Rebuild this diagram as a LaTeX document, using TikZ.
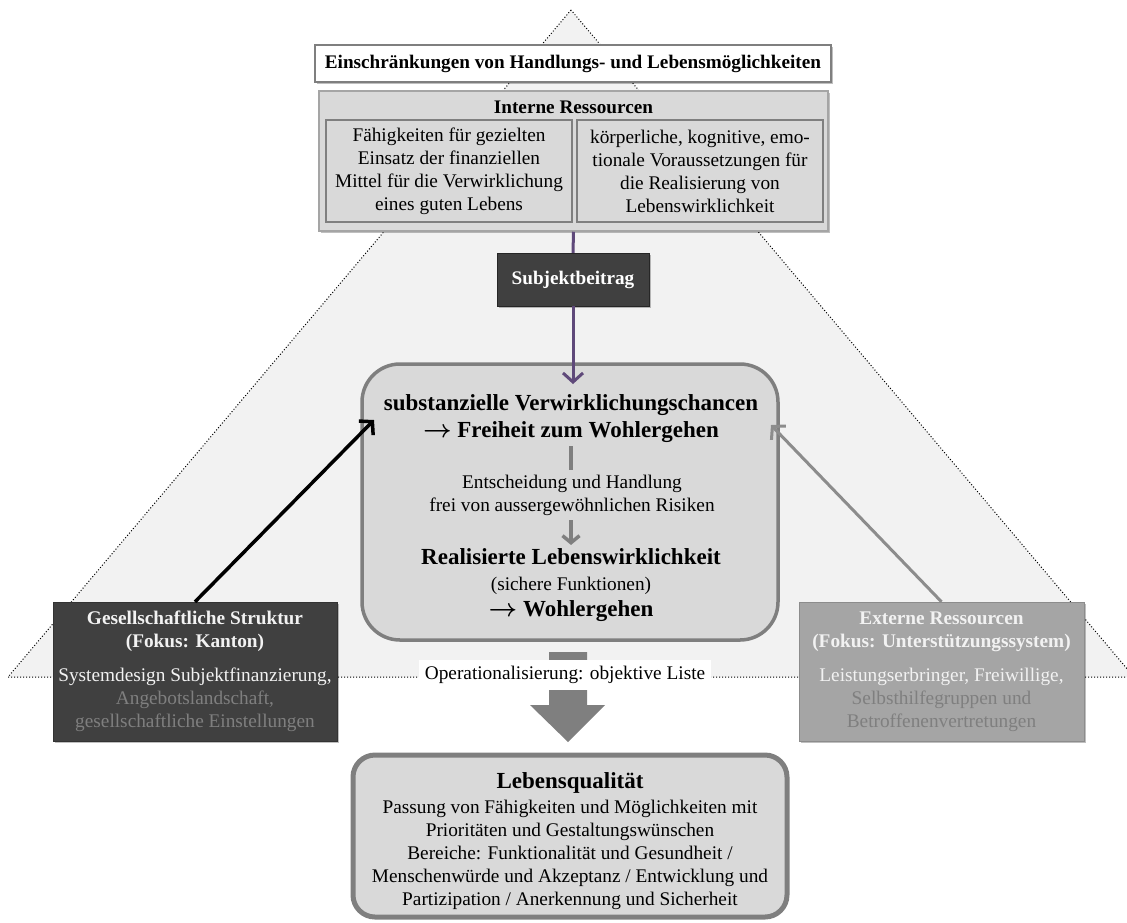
\documentclass[tikz,border=0pt]{standalone}
\usepackage{fontspec}
\setmainfont{Liberation Serif}
\usetikzlibrary{positioning,arrows.meta,shadows}
\definecolor{tri}{HTML}{F2F2F2}
\definecolor{box}{HTML}{D9D9D9}
\definecolor{dk}{HTML}{404040}
\definecolor{md}{HTML}{A5A5A5}
\definecolor{ln}{HTML}{7F7F7F}
\definecolor{lila}{HTML}{5F497A}
\newcommand{\txtsize}{\fontsize{19.3}{23}\selectfont}
\newcommand{\hdsize}{\fontsize{19.2}{23}\selectfont\bfseries}
\newcommand{\bigbold}{\fontsize{23}{27}\selectfont\bfseries}
\newcommand{\toarrow}{{\boldmath$\rightarrow$}}

\begin{document}
\begin{tikzpicture}[x=1pt, y=-1pt, font=\txtsize,
  shadowed/.style={drop shadow={shadow xshift=2pt, shadow yshift=-2pt, opacity=0.25, fill=black}},
  barb/.style={-{Straight Barb[length=9pt, width=20pt]}}]
\useasboundingbox (0,0) rectangle (1127,922);
% dotted triangle behind everything, its base is the long dotted line
\draw[dotted, line width=1pt, fill=tri] (571,10) -- (8,677) -- (1134,677) -- cycle;
% top: limits and internal resources
\node[draw=ln, line width=1.5pt, fill=white, minimum width=516pt, minimum height=37pt, font=\hdsize, shadowed] (limits) at (573,63.5) {Einschränkungen von Handlungs- und Lebensmöglichkeiten};
\node[draw=md, line width=1.5pt, fill=box, minimum width=509pt, minimum height=140pt, shadowed] (ir) at (573.5,161) {};
\node[font=\hdsize] (irTitle) at (573.5,107) {Interne Ressourcen};
\node[draw=ln, line width=1.2pt, fill=box, minimum width=246pt, minimum height=102pt, align=center] (irLeft) at (449,171) {Fähigkeiten für gezielten\\Einsatz der finanziellen\\Mittel für die Verwirklichung\\eines guten Lebens};
\node[draw=ln, line width=1.2pt, fill=box, minimum width=246pt, minimum height=102pt, align=center] (irRight) at (700,171) {körperliche, kognitive, emo-\\tionale Voraussetzungen für\\die Realisierung von\\Lebenswirklichkeit};
\node[draw=black!85, fill=dk, text=white, font=\hdsize, minimum width=152pt, minimum height=53pt, shadowed] (sb) at (573,279.5) {Subjektbeitrag};
% central box
\node[draw=ln, line width=3.5pt, fill=box, rounded corners=38pt, minimum width=416pt, minimum height=276pt] (main) at (570,502) {};
\node[font=\bigbold, align=center] (chance) at (571,418.5) {substanzielle Verwirklichungschancen\\\toarrow\ Freiheit zum Wohlergehen};
\node[align=center] (real) at (571,585) {{\bigbold Realisierte Lebenswirklichkeit}\\[3pt](sichere Funktionen)\\[3pt]{\bigbold \toarrow\ Wohlergehen}};
\draw[ln, line width=3.5pt, -{Straight Barb[length=7pt, width=17pt]}] (chance.south) -- (real.north);
\node[align=center, fill=box, inner sep=5pt] (decision) at (572,495) {Entscheidung und Handlung\\frei von aussergewöhnlichen Risiken};
\coordinate (tipTop) at (573,384);
\draw[lila, line width=3pt] (ir.south) -- (sb.north);
\draw[lila, line width=3pt, barb] (sb.south) -- (tipTop);
% side boxes
\node[draw=black!80, fill=dk, text=tri, minimum width=284pt, minimum height=139pt, align=center, shadowed] (gs) at (195,671.5) {\textbf{Gesellschaftliche Struktur}\\\textbf{(Fokus: Kanton)}\\[11pt]Systemdesign Subjektfinanzierung,\\\textcolor{ln}{Angebotslandschaft,}\\\textcolor{ln}{gesellschaftliche Einstellungen}};
\node[draw=md!85!black, fill=md, text=tri, minimum width=285pt, minimum height=139pt, align=center, shadowed] (ex) at (941.5,671.5) {\textbf{Externe Ressourcen}\\\textbf{(Fokus: Unterstützungssystem)}\\[11pt]Leistungserbringer, Freiwillige,\\\textcolor{ln}{Selbsthilfegruppen und}\\\textcolor{ln}{Betroffenenvertretungen}};
\coordinate (tipL) at (374,420);
\coordinate (tipR) at (771,425);
\draw[black, line width=3.5pt, barb] (gs.north) -- (tipL);
\draw[ln!90, line width=3pt, barb] (ex.north) -- (tipR);
% operationalisation and quality of life
\fill[ln] (549,652) -- (587,652) -- (587,705) -- (605,705) -- (568,742) -- (530,705) -- (549,705) -- cycle;
\node[fill=white, inner xsep=6pt, minimum height=30pt] (op) at (565,675) {Operationalisierung: objektive Liste};
\node[draw=ln, line width=5pt, fill=box, rounded corners=22pt, minimum width=434pt, minimum height=162pt] (lq) at (570,836) {};
\node[align=center] (lqText) at (570,841) {{\bigbold Lebensqualität}\\[2pt]Passung von Fähigkeiten und Möglichkeiten mit\\Prioritäten und Gestaltungswünschen\\Bereiche: Funktionalität und Gesundheit /\\Menschenwürde und Akzeptanz / Entwicklung und\\Partizipation / Anerkennung und Sicherheit};
\end{tikzpicture}
\end{document}
